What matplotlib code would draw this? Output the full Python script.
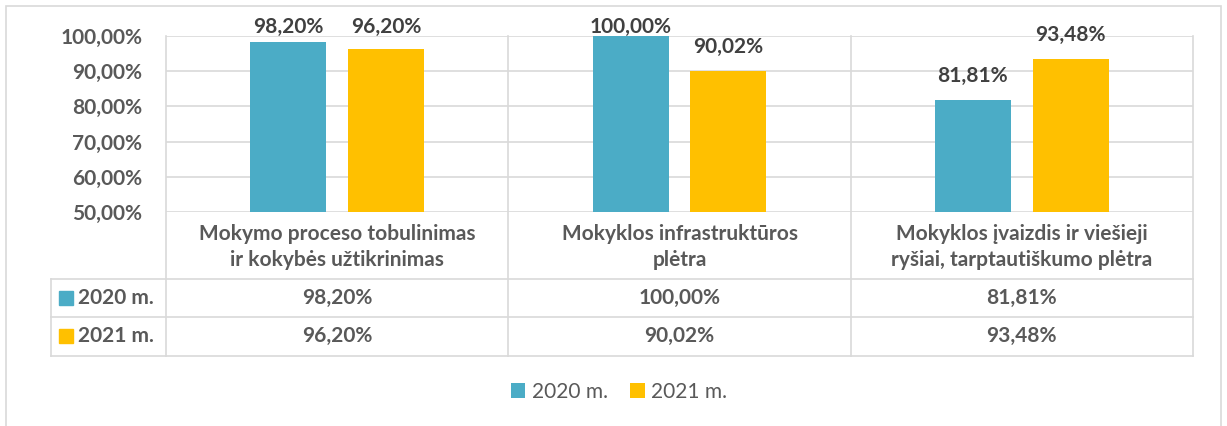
import matplotlib.pyplot as plt
from matplotlib.patches import Rectangle

categories = ["Mokymo proceso tobulinimas\nir kokybės užtikrinimas",
              "Mokyklos infrastruktūros\nplėtra",
              "Mokyklos įvaizdis ir viešieji\nryšiai, tarptautiškumo plėtra"]
series = ["2020 m.", "2021 m."]
v2020 = [98.20, 100.00, 81.81]
v2021 = [96.20, 90.02, 93.48]
yticks = [50, 60, 70, 80, 90, 100]

colors = ["#4BACC6", "#FFC000"]
grid_c = "#D9D9D9"
txt_c = "#595959"
lab_c = "#404040"
fs = 15

W, H = 1227, 426
plt.rcParams["font.family"] = ["Lato", "DejaVu Sans"]
fig = plt.figure(figsize=(W / 100, H / 100), dpi=100)

def fx(px):
    return px / W

def fy(py):
    return 1 - py / H

# plot area in pixels
L, R, T, B = 166, 1193, 36, 212
ax = fig.add_axes([fx(L), fy(B), fx(R) - fx(L), fy(T) - fy(B)])

def ay(py):
    # pixel row -> axes fraction
    return (B - py) / (B - T)

fmt = lambda v: f"{v:.2f}%".replace(".", ",")

x = list(range(len(categories)))
bw = 0.222
off = 0.143
bars = []
ppd = (B - T) / 50.0  # pixels per data unit
for vals, sgn, c, name in [(v2020, -1, colors[0], series[0]), (v2021, 1, colors[1], series[1])]:
    xs = [i + sgn * off for i in x]
    b = ax.bar(xs, [v - 50 for v in vals], bottom=50, width=bw, color=c, label=name, zorder=3)
    bars.append(b)
    for xi, v in zip(xs, vals):
        ylab = min(v + 18 / ppd, 100 + 3 / ppd)
        ax.text(xi, ylab, fmt(v), ha="center", va="baseline", fontsize=fs,
                fontweight="bold", color=lab_c, zorder=4, clip_on=False)

ax.set_xlim(-0.5, len(categories) - 0.5)
ax.set_ylim(50, 100)
ax.set_yticks(yticks)
ax.set_yticklabels([fmt(t) for t in yticks], fontsize=fs, fontweight="bold", color=txt_c)
ax.tick_params(axis="y", length=0, pad=17)
ax.set_xticks([])
for s in ax.spines.values():
    s.set_visible(False)
ax.yaxis.grid(True, color=grid_c, linewidth=1.2, zorder=0)
ax.set_axisbelow(True)

# table lines
xt = ax.get_xaxis_transform()
row_px = [279, 317, 356]
y_rows = [ay(p) for p in row_px]
lw = 1.2
x_left_data = -0.5 + (51 - L) / ((R - L) / 3)
for sep in [-0.5, 0.5, 1.5, 2.5]:
    ax.plot([sep, sep], [1, y_rows[-1]], transform=xt, color=grid_c, lw=lw, clip_on=False, zorder=1)
for yr in y_rows:
    ax.plot([x_left_data, 2.5], [yr, yr], transform=xt, color=grid_c, lw=lw, clip_on=False, zorder=1)
ax.plot([x_left_data, x_left_data], [y_rows[0], y_rows[-1]], transform=xt, color=grid_c,
        lw=lw, clip_on=False, zorder=1)

# header cells
for i, cat in enumerate(categories):
    ax.text(i, ay(247), cat, transform=xt, ha="center", va="center", fontsize=fs,
            fontweight="bold", color=txt_c, linespacing=1.4)

# value rows
row_centers = [298, 336]
for r, (vals, name, c) in enumerate([(v2020, series[0], colors[0]), (v2021, series[1], colors[1])]):
    yc = ay(row_centers[r])
    for i, v in enumerate(vals):
        ax.text(i, yc, fmt(v), transform=xt, ha="center", va="center", fontsize=fs,
                fontweight="bold", color=txt_c)
    py = row_centers[r]
    fig.add_artist(Rectangle((fx(59), fy(py + 7)), fx(14), 14 / H, color=c))
    fig.text(fx(78), fy(py), name, ha="left", va="center", fontsize=fs,
             fontweight="bold", color=txt_c)

# legend
fig.legend(handles=bars, labels=series, loc="center", bbox_to_anchor=(fx(619), fy(392)),
           ncol=2, frameon=False, fontsize=fs, labelcolor=txt_c, handlelength=0.7,
           handleheight=0.7, handletextpad=0.3, columnspacing=1.1)

# outer chart border
fig.add_artist(Rectangle((fx(5.5), fy(440)), fx(1215.5), 434 / H, fill=False,
                         edgecolor=grid_c, lw=1.2))

fig.savefig("out.png", dpi=100)
